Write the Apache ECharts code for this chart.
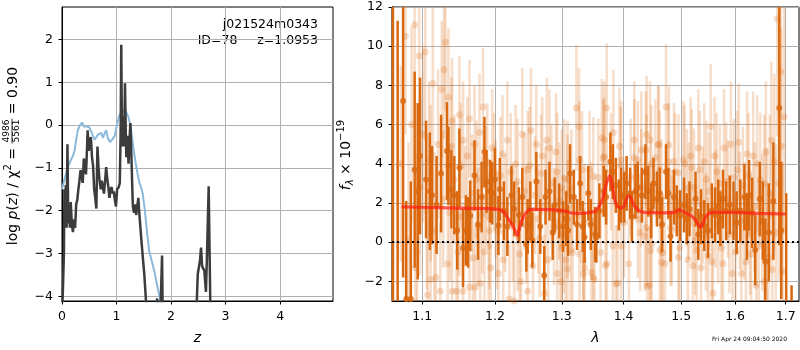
<!DOCTYPE html>
<html><head><meta charset="utf-8">
<script src="https://cdn.jsdelivr.net/npm/echarts@6/dist/echarts.min.js"></script>
<style>html,body{margin:0;padding:0;background:#fff}#c{width:800px;height:350px}</style>
</head><body><div id="c"></div><script>
// ---------- LEFT PANEL DATA: log p(z) ----------
const pzZ = [0.00,0.02,0.035,0.045,0.055,0.07,0.085,0.10,0.115,0.13,0.145,0.16,0.18,0.20,0.22,0.24,0.26,0.28,0.30,0.32,0.34,0.36,0.38,0.40,0.42,0.44,0.46,0.47,0.49,0.51,0.53,0.55,0.57,0.59,0.61,0.63,0.65,0.67,0.69,0.71,0.73,0.75,0.77,0.79,0.81,0.83,0.85,0.87,0.89,0.91,0.93,0.95,0.97,0.99,1.01,1.04,1.06,1.075,1.087,1.10,1.11,1.125,1.14,1.155,1.17,1.18,1.20,1.22,1.24,1.255,1.27,1.29,1.30,1.32,1.34,1.36,1.38,1.40,1.42,1.46,1.51,1.54,1.58,1.65,1.72,1.745,1.76,1.80,1.835,1.85,1.90,2.40,2.47,2.49,2.53,2.55,2.57,2.61,2.64,2.66,2.69,2.72,2.76];
const pzLog = [-4.5,-3.7,-3.0,-1.5,-2.3,-1.4,-2.4,-0.45,-2.3,-1.9,-2.4,-1.8,-2.3,-2.5,-2.2,-2.4,-1.85,-1.75,-1.5,-1.3,-1.05,-1.2,-1.35,-0.78,-1.0,-1.15,-0.5,-0.12,-0.6,-0.4,-0.28,-0.75,-0.95,-1.5,-1.7,-1.95,-0.5,-1.0,-1.3,-1.5,-1.3,-1.45,-1.6,-1.3,-0.98,-1.25,-1.45,-1.7,-1.5,-1.45,-1.6,-1.55,-1.75,-1.9,-1.5,-1.45,-1.35,-0.2,1.88,-0.3,-0.5,0.2,-0.5,0.98,-0.2,-0.75,-0.25,-0.9,-0.3,0.05,-0.6,-1.5,-1.9,-2.05,-1.85,-2.1,-1.9,-1.7,-2.1,-2.75,-3.5,-4.1,-5.0,-6.0,-4.6,-4.05,-4.6,-4.6,-3.05,-4.8,-7.0,-7.0,-4.2,-3.48,-3.17,-2.86,-3.3,-3.4,-3.9,-3.0,-1.43,-4.2,-7.0];
const chiZ = [0.00,0.05,0.10,0.15,0.20,0.23,0.26,0.29,0.33,0.37,0.40,0.44,0.50,0.55,0.60,0.63,0.66,0.69,0.72,0.75,0.78,0.81,0.84,0.88,0.93,0.97,1.01,1.05,1.10,1.14,1.18,1.22,1.26,1.30,1.34,1.38,1.42,1.45,1.48,1.52,1.56,1.60,1.65,1.70,1.76,1.82,1.90];
const chiLog = [-1.5,-1.25,-1.0,-0.85,-0.72,-0.6,-0.35,-0.12,0.0,0.06,-0.03,-0.03,-0.05,-0.2,-0.34,-0.3,-0.22,-0.26,-0.18,-0.3,-0.2,-0.12,-0.3,-0.4,-0.32,-0.24,0.02,0.22,0.32,0.36,0.3,0.18,-0.05,-0.45,-0.8,-1.1,-1.35,-1.45,-1.6,-2.0,-2.5,-2.95,-3.2,-3.45,-3.85,-4.15,-4.6];
const leftXTicks = [0,1,2,3,4];
const leftYTicks = [-4,-3,-2,-1,0,1,2];

// ---------- RIGHT PANEL DATA: spectrum ----------
const darkLam = [1.062,1.068,1.075,1.079,1.085,1.090,1.094,1.097,1.105,1.110,
1.113,1.119,1.125,1.133,1.135,1.139,1.143,1.147,1.150,1.155,
1.159,1.162,1.165,1.171,1.176,1.181,1.185,1.188,1.193,1.196,
1.200,1.205,1.207,1.213,1.218,1.224,1.228,1.235,1.240,1.246,
1.248,1.252,1.255,1.261,1.267,1.273,1.275,1.281,1.286,1.289,
1.296,1.302,1.307,1.310,1.313,1.319,1.324,1.329,1.333,1.336,
1.342,1.346,1.353,1.355,1.360,1.367,1.371,1.378,1.382,1.387,
1.392,1.396,1.401,1.405,1.411,1.414,1.420,1.424,1.431,1.437,
1.442,1.447,1.451,1.457,1.462,1.466,1.473,1.477,1.481,1.487,
1.492,1.498,1.505,1.510,1.515,1.526,1.531,1.536,1.542,1.549,
1.556,1.562,1.568,1.572,1.577,1.583,1.590,1.597,1.603,1.610,
1.618,1.623,1.627,1.633,1.639,1.648,1.654,1.659,1.666,1.675,
1.687,1.691,1.701,1.712];
const darkFlux = [-8,-6,7.2,-2.9,-2.9,3.7,2.6,4.4,3.2,2.6,
2.4,1.9,3.5,4.65,3.9,2.7,2.4,0.6,3.8,-0.3,
0.6,0.5,1.35,3.4,0.9,2.3,4.6,3.1,2.6,2.5,
3.2,0.85,2.7,1.6,0.8,2.4,1.7,1.4,2.3,-0.1,
0.8,1.6,0.1,3.1,0.8,-1.7,2.3,2.6,0.5,1.9,
1.6,0.8,1.2,0.6,3.5,2.3,0.9,3.0,0.8,0.25,
2.5,0.9,0.4,0.25,1.6,2.6,2.3,4.1,3.6,2.9,
1.9,2.4,2.3,3.0,2.5,1.3,2.6,2.8,2.4,3.6,
2.6,1.6,3.0,2.2,2.5,0.9,3.6,2.5,0.3,2.3,
1.6,1.35,1.9,1.2,1.7,2.2,0.4,1.3,0.85,0.6,
1.6,1.4,1.8,1.2,2.2,1.6,1.9,1.6,1.0,1.6,
2.3,0.8,2.4,1.5,-0.4,2.2,1.1,-1.0,0.5,2.1,
6.85,0.6,-3.5,-6];
const darkErr = [22,17.3,9,5,6,5,4.5,4,3,3,
2.5,2.5,3,2.5,2,2,2,2,2,2,
1.8,1.8,1.8,1.8,1.8,1.8,1.8,1.6,1.6,1.6,
1.6,1.5,1.6,1.5,1.5,1.5,1.4,1.4,1.5,1.4,
1.4,1.5,1.4,1.5,1.4,1.5,1.4,1.5,1.4,1.4,
1.4,1.3,1.4,1.3,1.5,1.4,1.3,1.4,1.3,1.3,
1.4,1.3,1.4,1.3,1.4,1.3,1.4,1.5,1.4,1.4,
1.3,1.4,1.3,1.4,1.3,1.3,1.4,1.3,1.4,1.4,
1.3,1.4,1.3,1.4,1.3,1.4,1.4,1.3,1.3,1.4,
1.3,1.3,1.4,1.3,1.4,1.4,1.3,1.4,1.3,1.4,
1.4,1.4,1.4,1.4,1.5,1.5,1.5,1.5,1.6,1.6,
1.7,1.7,1.8,1.8,1.8,1.9,2,2.2,2.5,3,
7,3.5,6,3.8];
// first set of faint (second-grism) points
const lightLam = [1.078,1.082,1.090,1.091,1.096,1.097,1.104,1.106,1.107,1.111,
1.111,1.114,1.118,1.124,1.126,1.129,1.131,1.134,1.135,1.139,
1.140,1.140,1.146,1.150,1.150,1.155,1.155,1.164,1.164,1.171,
1.172,1.176,1.179,1.183,1.185,1.189,1.192,1.194,1.199,1.203,
1.211,1.212,1.221,1.223,1.228,1.233,1.233,1.238,1.240,1.248,
1.248,1.253,1.261,1.264,1.268,1.273,1.277,1.281,1.293,1.293,
1.303,1.306,1.309,1.314,1.323,1.327,1.328,1.328,1.336,1.336,
1.344,1.352,1.358,1.366,1.372,1.372,1.379,1.383,1.390,1.393,
1.395,1.401,1.409,1.412,1.418,1.430,1.436,1.439,1.444,1.447,
1.459,1.462,1.471,1.473,1.477,1.483,1.489,1.497,1.506,1.512,
1.519,1.521,1.525,1.534,1.536,1.546,1.549,1.554,1.558,1.565,
1.568,1.577,1.583,1.592,1.595,1.604,1.612,1.618,1.623,1.631,
1.641,1.643,1.657,1.657,1.662,1.673,1.677,1.683,1.690,1.691,
1.697];
const lightFlux = [10.5,0.1,11.1,-1.3,9.5,2.8,9.7,1.6,-2.7,-1.9,
3.0,8.1,-1.8,-2.5,7.8,8.8,10.2,-1.1,7.4,4.9,
6.2,-2.5,-2.5,6.5,1.3,5.2,-2.5,6.3,-2.3,5.0,
-2.3,0.8,-2.1,6.9,-0.5,4.1,0.6,-1.3,3.6,0.6,
4.5,-0.9,-2.9,3.6,-3.0,3.1,0.3,-2.0,5.5,3.7,
-2.5,5.7,5.0,1.2,3.5,-2.6,5.2,4.8,3.6,-1.6,
0.4,-0.9,3.2,-0.4,6.85,5.9,4.2,-0.6,-1.3,1.0,
3.7,-1.9,3.3,4.3,6.85,-1.1,3.6,5.6,-2.1,4.9,
3.9,1.0,-1.1,3.3,4.3,4.7,0.3,5.5,-2.2,4.0,
5.0,-0.4,-1.1,6.9,4.1,0.6,3.6,-0.3,4.0,-0.9,
3.8,-1.2,0.1,3.7,-1.3,3.2,-0.7,5.9,-2.6,3.6,
0.9,-1.1,3.1,5.0,-1.6,3.7,-1.6,1.1,4.5,-0.6,
-2.2,4.0,3.0,-2.0,0.8,-1.4,4.1,11.4,8.7,4.9,
6.4];
const lightErr = [5,5,5,5,5,4.5,4.5,4,4,4,
4,4,4,3.5,3.5,3.5,3.5,3.5,3.5,3.5,
3.2,3.2,3.2,3,3,3,3,3,3,3,
3,3,3,3,3,3,3,3,3,3,
3,3.2,2.8,3,3,3.2,2.8,3,3.4,3,
3,3.2,3,2.8,3,3,3.2,3,3,2.8,
3,2.8,3,3,3.2,3,3,2.8,3,3,
3,3,3,3,3.3,3,3,3.2,3,3,
3,2.8,3,3,3,3,2.8,3,3,3,
3,2.8,3,3.2,3,2.8,3,3,3,3,
3,3,2.8,3,3,3,3,3.2,3,3,
3,3,3,3.2,3,3,3,3,3.2,3,
3.5,3.5,3.5,3.5,4,4,4.5,6,7,6,
6];
// second set of faint points
const light2Lam = [1.072,1.086,1.093,1.101,1.109,1.116,1.121,1.128,1.137,1.143,
1.148,1.152,1.158,1.161,1.167,1.169,1.174,1.178,1.182,1.187,
1.191,1.196,1.201,1.205,1.208,1.215,1.218,1.226,1.230,1.236,
1.243,1.246,1.251,1.256,1.259,1.266,1.270,1.275,1.279,1.284,
1.288,1.291,1.296,1.298,1.300,1.300,1.304,1.309,1.309,1.309,
1.315,1.317,1.332,1.334,1.334,1.347,1.347,1.350,1.350,1.362,
1.364,1.368,1.368,1.370,1.382,1.387,1.396,1.396,1.418,1.424,
1.424,1.428,1.430,1.438,1.439,1.439,1.440,1.445,1.446,1.448,
1.454,1.460,1.462,1.465,1.465,1.467,1.478,1.481,1.487,1.495,
1.495,1.504,1.510,1.514,1.517,1.523,1.528,1.531,1.539,1.542,
1.545,1.551,1.556,1.561,1.563,1.571,1.574,1.579,1.586,1.589,
1.598,1.601,1.607,1.609,1.615,1.621,1.626,1.629,1.635,1.638,
1.646,1.649,1.653,1.660,1.665,1.668,1.671,1.680,1.686,1.694];
const light2Flux = [4.0,6.0,-0.5,5.5,4.2,0.6,5.0,2.2,1.5,3.2,
-0.5,3.9,1.9,4.4,2.5,-0.8,3.2,5.6,1.4,2.9,
-0.2,4.8,2.2,-1.6,3.4,1.5,5.2,1.0,4.0,-0.6,
2.6,0.9,3.9,-1.2,2.4,0.2,4.4,1.9,-0.9,3.0,
0.8,4.6,2.1,-2.0,2.77,-0.26,3.27,1.17,-1.36,2.5,
2.77,-0.52,3.7,-0.93,-1.61,1.09,-1.53,3.37,-1.78,-0.52,
5.33,5.21,4.37,-1.19,-0.18,-2.12,4.2,-0.2,5.21,4.2,
1.17,0.5,2.77,4.7,3.53,0.75,-2.25,5.21,-0.43,-0.1,
4.29,4.96,3.7,2.26,-1.02,-0.52,4.96,0.75,4.12,3.53,
-0.77,4.2,2.77,2.1,4.4,2.8,-0.4,4.8,1.9,4.1,
0.5,2.6,-1.0,4.4,1.7,3.0,-0.3,4.8,2.2,0.4,
3.3,-0.5,5.1,1.6,2.9,-1.0,3.4,0.5,4.4,1.8,
-0.2,3.2,1.0,4.6,-0.8,2.5,5.2,0.5,3.0,-1.5];
const light2Err = [5,5,5,4.5,4,4,3.8,3.5,3.5,3.3,
3.2,3.2,3,3,3,3,3,3,3,3,
3,3,3,3,3,3,3,3,3,3,
3,3,3,3,3,3,3,3,3,3,
3,3,3,3,3,3,3,3,3,3,
3,3,3,3,3,3,3,3,3,3,
3,3,3,3,3,3,3,3,3,3,
3,3,3,3,3,3,3,3,3,3,
3,3,3,3,3,3,3,3,3,3,
3,3,3,3,3,3,3,3,3,3,
3,3,3,3,3,3,3,3,3,3,
3,3,3,3,3,3,3.2,3.2,3.3,3.3,
3.4,3.4,3.5,3.6,3.8,4,4,4.5,5,5.5];
const modelLam = [1.073,1.111,1.157,1.203,1.211,1.218,1.227,1.233,1.235,1.240,1.248,1.255,1.283,1.303,1.319,1.352,1.360,1.366,1.371,1.377,1.382,1.387,1.395,1.401,1.408,1.412,1.418,1.427,1.436,1.471,1.488,1.497,1.506,1.518,1.527,1.535,1.540,1.546,1.558,1.592,1.643,1.700];
const modelFlux = [1.8,1.77,1.73,1.69,1.6,1.27,0.76,0.34,0.6,1.18,1.6,1.67,1.66,1.6,1.47,1.57,1.86,2.28,2.96,3.38,2.7,1.95,1.74,1.86,2.37,2.28,1.86,1.6,1.52,1.5,1.52,1.66,1.52,1.35,1.1,0.76,1.0,1.35,1.52,1.52,1.47,1.44];
const rightXTicks = [1.1,1.2,1.3,1.4,1.5,1.6,1.7];
const rightYTicks = [-2,0,2,4,6,8,10,12];

// ---------- chart ----------
const FONT = '"DejaVu Sans", sans-serif';
const ORANGE = '#d9680f';
const LIGHT_BAR = 'rgba(217,104,15,0.22)';
const LIGHT_DOT = 'rgba(217,104,15,0.28)';
const lamMin = 1.0608, lamMax = 1.7273;
const fmtNum = v => String(v).replace('-', '\u2212');

function axisCommon(ticks, fmt, margin) {
  return {
    axisLine: {show: true, onZero: false, lineStyle: {color: '#000', width: 1}},
    axisTick: {show: true, length: 3.5, customValues: ticks, lineStyle: {color: '#000', width: 1}},
    splitLine: {show: true, lineStyle: {color: '#b0b0b0', width: 1}},
    axisLabel: {color: '#000', fontSize: 12.5, fontFamily: FONT, margin: margin, customValues: ticks, formatter: fmt}
  };
}

function errSeries(lam, flux, err, color, width, z) {
  return {
    type: 'custom', xAxisIndex: 1, yAxisIndex: 1, silent: true, z: z,
    data: lam.map((l, i) => [Math.log(l), flux[i], err[i]]),
    encode: {x: 0, y: 1},
    renderItem: function (params, api) {
      const x = api.value(0), y = api.value(1), e = api.value(2);
      const a = api.coord([x, y - e]), b = api.coord([x, y + e]);
      const cs = params.coordSys;
      const top = cs.y, bot = cs.y + cs.height;
      const y1 = Math.min(a[1], bot), y2 = Math.max(b[1], top);
      if (y2 > bot || y1 < top) return null;
      return {type: 'line', shape: {x1: a[0], y1: y1, x2: b[0], y2: y2},
        style: {stroke: color, lineWidth: width}};
    }
  };
}
function dotSeries(lam, flux, color, size, z) {
  return {type: 'scatter', xAxisIndex: 1, yAxisIndex: 1, silent: true, z: z,
    data: lam.map((l, i) => [Math.log(l), flux[i]]), symbolSize: size, itemStyle: {color: color}};
}

// label builder (rotated, reads bottom-to-top)
const mctx = document.createElement('canvas').getContext('2d');
function tw(t, f) { mctx.font = f; return mctx.measureText(t).width; }
function rotLabel(parts, cx, cy) {
  let x = 0; const kids = [];
  parts.forEach(p => {
    if (p.frac) {
      const w = Math.max(tw(p.frac[0], p.font), tw(p.frac[1], p.font)) + 2;
      kids.push({type: 'text', x: x + w / 2, y: p.by - 5, style: {text: p.frac[0], font: p.font, fill: '#000', align: 'center', verticalAlign: 'middle'}});
      kids.push({type: 'text', x: x + w / 2, y: p.by + 5, style: {text: p.frac[1], font: p.font, fill: '#000', align: 'center', verticalAlign: 'middle'}});
      kids.push({type: 'line', shape: {x1: x, y1: p.by, x2: x + w, y2: p.by}, style: {stroke: '#000', lineWidth: 0.8}});
      x += w;
    } else {
      kids.push({type: 'text', x: x, y: p.dy || 0, style: {text: p.t, font: p.font, fill: '#000', align: 'left', verticalAlign: 'middle'}});
      x += tw(p.t, p.font);
    }
  });
  kids.forEach(k => { if (k.type === 'line') { k.shape.x1 -= x / 2; k.shape.x2 -= x / 2; } else { k.x -= x / 2; } });
  return {type: 'group', x: cx, y: cy, rotation: Math.PI / 2, children: kids};
}
const F14 = '14px ' + FONT, I14 = 'italic 14px ' + FONT, F10 = '10px ' + FONT, I10 = 'italic 10px ' + FONT, F9 = '9px ' + FONT;
const leftLabel = rotLabel([
  {t: 'log ', font: F14}, {t: 'p', font: I14}, {t: '(', font: F14}, {t: 'z', font: I14},
  {t: ') / \u03c7', font: F14}, {t: '2', font: F10, dy: -5}, {t: ' = ', font: F14},
  {frac: ['4986', '5561'], font: F9, by: -1}, {t: ' = 0.90', font: F14}
], 13, 156);
const rightLabel = rotLabel([
  {t: 'f', font: I14}, {t: '\u03bb', font: I10, dy: 4}, {t: ' \u00d7 10', font: F14}, {t: '\u221219', font: F10, dy: -5}
], 346, 155);

const chart = echarts.init(document.getElementById('c'), null, {renderer: 'canvas'});
chart.setOption({
  animation: false,
  backgroundColor: '#fff',
  grid: [
    {left: 62, top: 7, width: 271, height: 297, show: true, borderColor: '#000', borderWidth: 1},
    {left: 392, top: 7, width: 407, height: 297, show: true, borderColor: '#000', borderWidth: 1}
  ],
  xAxis: [
    Object.assign({type: 'value', gridIndex: 0, min: 0, max: 4.97, name: 'z', nameLocation: 'middle', nameGap: 30,
      nameTextStyle: {fontFamily: FONT, fontSize: 14, fontStyle: 'italic', color: '#000'}}, axisCommon(leftXTicks, fmtNum, 9)),
    Object.assign({type: 'value', gridIndex: 1, min: Math.log(lamMin), max: Math.log(lamMax), name: '\u03bb', nameLocation: 'middle', nameGap: 30,
      nameTextStyle: {fontFamily: FONT, fontSize: 14, fontStyle: 'italic', color: '#000'}},
      axisCommon(rightXTicks.map(v => Math.log(v)), v => Math.exp(v).toFixed(1), 9))
  ],
  yAxis: [
    Object.assign({type: 'value', gridIndex: 0, min: -4.11, max: 2.76}, axisCommon(leftYTicks, fmtNum, 9)),
    Object.assign({type: 'value', gridIndex: 1, min: -3, max: 12}, axisCommon(rightYTicks, fmtNum, 9))
  ],
  series: [
    {type: 'line', xAxisIndex: 0, yAxisIndex: 0, data: chiZ.map((z, i) => [z, chiLog[i]]), showSymbol: false, clip: true,
      lineStyle: {color: '#8bb9dc', width: 2}, z: 3},
    {type: 'line', xAxisIndex: 0, yAxisIndex: 0, data: pzZ.map((z, i) => [z, pzLog[i]]), showSymbol: false, clip: true,
      lineStyle: {color: '#3c3c3c', width: 2.5}, z: 4},
    errSeries(lightLam, lightFlux, lightErr, LIGHT_BAR, 2.6, 3),
    errSeries(light2Lam, light2Flux, light2Err, LIGHT_BAR, 2.6, 3),
    dotSeries(lightLam, lightFlux, LIGHT_DOT, 7, 4),
    dotSeries(light2Lam, light2Flux, LIGHT_DOT, 7, 4),
    errSeries(darkLam, darkFlux, darkErr, ORANGE, 2.5, 5),
    dotSeries(darkLam, darkFlux, ORANGE, 6, 6),
    {type: 'line', xAxisIndex: 1, yAxisIndex: 1, data: modelLam.map((l, i) => [Math.log(l), modelFlux[i]]), showSymbol: false,
      smooth: 0.3, lineStyle: {color: 'rgba(255,30,20,0.72)', width: 3.2}, z: 7,
      markLine: {silent: true, symbol: 'none', label: {show: false}, data: [{yAxis: 0}],
        lineStyle: {color: '#000', width: 2, type: [2, 3]}, z: 8}}
  ],
  graphic: [
    leftLabel, rightLabel,
    {type: 'text', x: 318, y: 25, style: {text: 'j021524m0343', font: '12.5px ' + FONT, fill: '#000', align: 'right', verticalAlign: 'middle'}},
    {type: 'text', x: 318, y: 40.5, style: {text: 'ID=78     z=1.0953', font: '12.5px ' + FONT, fill: '#000', align: 'right', verticalAlign: 'middle'}},
    {type: 'text', x: 787, y: 339.5, style: {text: 'Fri Apr 24 09:04:50 2020', font: '6px ' + FONT, fill: '#000', align: 'right', verticalAlign: 'middle'}}
  ]
});
</script></body></html>
